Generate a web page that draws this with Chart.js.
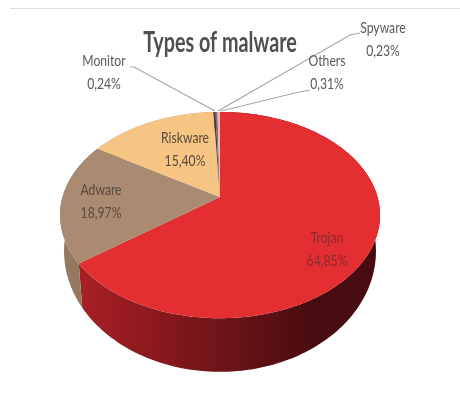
<!DOCTYPE html>
<html>
<head>
<meta charset="utf-8">
<script src="https://cdn.jsdelivr.net/npm/chart.js@4"></script>
<style>
    html, body { margin: 0; padding: 0; background: #fff; }
    #wrap { position: relative; width: 460px; height: 414px; }
    /* the reference is a soft, resampled picture */
    #malwareChart { filter: blur(0.45px); }
</style>
</head>
<body>
<div id="wrap"><canvas id="malwareChart" width="460" height="414"></canvas></div>
<script>
const categories = ["Trojan", "Adware", "Riskware", "Monitor", "Spyware", "Others"];
const shares = [64.85, 18.97, 15.40, 0.24, 0.23, 0.31];
const shareLabels = ["64,85%", "18,97%", "15,40%", "0,24%", "0,23%", "0,31%"];
const faceColors = ["#e32f32", "#ab8a72", "#f6c583", "#4a3a4c", "#8c6a78", "#eeb9b4"];
const wallLight = ["#b02126", "#97795f", "#c9a06a", "#3a2d3b", "#6d525d", "#c39590"];
const wallDark = ["#470c0f", "#7f6550", "#a98655", "#3a2d3b", "#6d525d", "#c39590"];
const labelSpots = [[327, 238], [101, 190], [185, 138], [104, 61], [383, 28], [327, 61]];
const leaders = [
    null, null, null,
    [[130, 67], [134, 67], [215, 111]],
    [[360, 33], [350, 35], [218, 111]],
    [[310, 90], [299, 92], [221, 111]]
];

// perspective of the tilted disc, fitted on the reference
const TILT = -0.175;
const SQUASH = 0.635;

function project(arc, angle) {
    // chart.js angles start at -PI/2 for the first slice
    const u = Math.cos(angle);
    const v = Math.sin(angle);
    const d = 1 + TILT * v;
    return [arc.x + arc.outerRadius * u / d, arc.y + arc.outerRadius * SQUASH * v / d];
}

function projectBottom(arc, angle) {
    const p = project(arc, angle);
    return [arc.x + (p[0] - arc.x) * 0.975, arc.y + 33 + (p[1] - arc.y) * 1.17];
}

// canvas has no narrow font here, so squeeze the text like the reference's Calibri
function narrowText(ctx, text, x, y, sx, sy) {
    ctx.save();
    ctx.translate(x, y);
    ctx.scale(sx, sy);
    ctx.fillText(text, 0, 0);
    ctx.restore();
}

const tiltedPie = {
    id: "tiltedPie",
    beforeDatasetDraw(chart) {
        const ctx = chart.ctx;
        const arcs = chart.getDatasetMeta(0).data;

        // side walls first, the faces go over them
        arcs.forEach((arc, i) => {
            const steps = Math.max(2, Math.ceil((arc.endAngle - arc.startAngle) * 40));
            const grad = ctx.createLinearGradient(arc.x - arc.outerRadius, 0, arc.x + arc.outerRadius, 0);
            grad.addColorStop(0, wallLight[i]);
            grad.addColorStop(0.8, wallDark[i]);
            grad.addColorStop(1, wallDark[i]);
            ctx.beginPath();
            for (let s = 0; s <= steps; s++) {
                const p = project(arc, arc.startAngle + (arc.endAngle - arc.startAngle) * s / steps);
                s === 0 ? ctx.moveTo(p[0], p[1]) : ctx.lineTo(p[0], p[1]);
            }
            for (let s = steps; s >= 0; s--) {
                const p = projectBottom(arc, arc.startAngle + (arc.endAngle - arc.startAngle) * s / steps);
                ctx.lineTo(p[0], p[1]);
            }
            ctx.closePath();
            ctx.fillStyle = grad;
            ctx.fill();
        });

        arcs.forEach((arc, i) => {
            const steps = Math.max(2, Math.ceil((arc.endAngle - arc.startAngle) * 40));
            ctx.beginPath();
            ctx.moveTo(arc.x, arc.y);
            for (let s = 0; s <= steps; s++) {
                const p = project(arc, arc.startAngle + (arc.endAngle - arc.startAngle) * s / steps);
                ctx.lineTo(p[0], p[1]);
            }
            ctx.closePath();
            ctx.fillStyle = faceColors[i];
            ctx.fill();
        });
        return false;
    },
    afterDatasetsDraw(chart) {
        const ctx = chart.ctx;

        ctx.strokeStyle = "#dedede";
        ctx.lineWidth = 1;
        ctx.beginPath();
        ctx.moveTo(10, 8.5);
        ctx.lineTo(460, 8.5);
        ctx.stroke();

        ctx.strokeStyle = "#a6a6a6";
        ctx.lineWidth = 1.2;
        leaders.forEach((pts) => {
            if (!pts) return;
            ctx.beginPath();
            pts.forEach((p, i) => (i === 0 ? ctx.moveTo(p[0], p[1]) : ctx.lineTo(p[0], p[1])));
            ctx.stroke();
        });

        ctx.textAlign = "center";
        ctx.textBaseline = "middle";
        ctx.fillStyle = "#4f4f4f";
        ctx.font = "bold 25px Lato";
        narrowText(ctx, "Types of malware", 220, 43, 0.79, 1.12);

        ctx.font = "14px Lato";
        categories.forEach((name, i) => {
            ctx.fillStyle = i === 0 ? "#8a2a30" : i === 1 || i === 2 ? "#594a3e" : "#595959";
            narrowText(ctx, name, labelSpots[i][0], labelSpots[i][1], 0.87, 1.1);
            narrowText(ctx, shareLabels[i], labelSpots[i][0], labelSpots[i][1] + 23, 0.87, 1.1);
        });
    }
};

new Chart(document.getElementById("malwareChart"), {
    type: "pie",
    data: {
        labels: categories,
        datasets: [{ data: shares, backgroundColor: faceColors, borderWidth: 0 }]
    },
    options: {
        responsive: false,
        animation: false,
        layout: { padding: { left: 62.5, right: 82.5, top: 39.5, bottom: 59.5 } },
        plugins: { legend: { display: false }, tooltip: { enabled: false } }
    },
    plugins: [tiltedPie]
});
</script>
</body>
</html>
